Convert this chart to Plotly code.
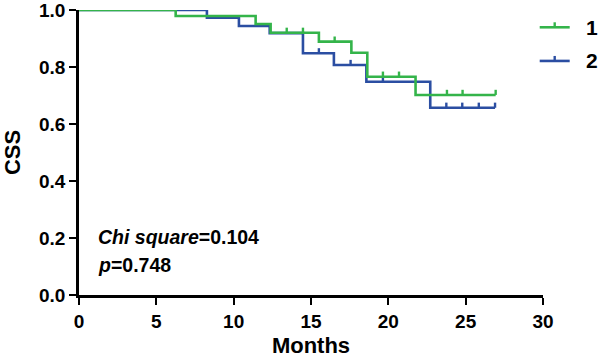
import numpy as np
import plotly.graph_objects as go

# Kaplan-Meier step data (months, survival)
green_times = [0, 6.25, 11.42, 12.39, 15.51, 17.61, 18.64, 21.76, 26.94]
green_surv = [1.0, 0.979, 0.951, 0.920, 0.889, 0.850, 0.766, 0.702, 0.702]
green_censor = [13.43, 14.48, 16.53, 19.65, 20.69, 23.79, 24.80, 26.94]

blue_times = [0, 8.27, 10.34, 12.33, 14.48, 16.48, 18.58, 22.71, 26.90]
blue_surv = [1.0, 0.973, 0.944, 0.919, 0.848, 0.807, 0.748, 0.657, 0.657]
blue_censor = [15.51, 17.56, 19.65, 23.75, 24.78, 25.85, 26.90]

x_ticks = [0, 5, 10, 15, 20, 25, 30]
y_ticks = [0.0, 0.2, 0.4, 0.6, 0.8, 1.0]

GREEN = "#34b44a"
BLUE = "#2b4ea2"
FONT = "Arial, Liberation Sans, sans-serif"


def surv_at(times, surv, t):
    idx = np.searchsorted(np.array(times), np.array(t), side="right") - 1
    return [surv[i] for i in idx]


fig = go.Figure()
tick_h = 0.018
for name, times, surv, cens, col in [
    ("2", blue_times, blue_surv, blue_censor, BLUE),
    ("1", green_times, green_surv, green_censor, GREEN),
]:
    fig.add_trace(go.Scatter(x=times, y=surv, mode="lines", line=dict(color=col, width=2.6, shape="hv"),
                             name=name, showlegend=False, cliponaxis=False))
    cy = surv_at(times, surv, cens)
    fig.add_trace(go.Scatter(x=cens, y=cy, mode="markers", marker=dict(size=0.1, color=col),
                             error_y=dict(type="data", symmetric=False, array=[tick_h] * len(cens),
                                          arrayminus=[0] * len(cens), width=0, thickness=2.4, color=col),
                             showlegend=False, hoverinfo="skip", cliponaxis=False))

# manual legend
L, R, T, B = 79.3, 543.3, 10.0, 295.3
W, H = R - L, B - T
px = lambda v: (v - L) / W
py = lambda v: (B - v) / H
for label, ypix, col in [("1", 27.3, GREEN), ("2", 61.0, BLUE)]:
    fig.add_shape(type="line", xref="paper", yref="paper", x0=px(540), x1=px(570), y0=py(ypix), y1=py(ypix),
                  line=dict(color=col, width=2.6))
    fig.add_shape(type="line", xref="paper", yref="paper", x0=px(555), x1=px(555), y0=py(ypix), y1=py(ypix - 5),
                  line=dict(color=col, width=2.4))
    fig.add_annotation(xref="paper", yref="paper", x=px(584), y=py(ypix), text="<b>%s</b>" % label,
                       showarrow=False, xanchor="left", yanchor="middle",
                       font=dict(family=FONT, size=21, color="black"))

fig.add_annotation(xref="paper", yref="paper", x=px(96), y=py(237.5), text="<b><i>Chi square</i>=0.104</b>",
                   showarrow=False, xanchor="left", yanchor="middle", font=dict(family=FONT, size=19.5, color="black"))
fig.add_annotation(xref="paper", yref="paper", x=px(96), y=py(265), text="<b><i>p</i>=0.748</b>",
                   showarrow=False, xanchor="left", yanchor="middle", font=dict(family=FONT, size=19.5, color="black"))

axis_common = dict(showline=True, linecolor="black", linewidth=2.5, ticks="outside", ticklen=7, tickwidth=2.2,
                   tickcolor="black", showgrid=False, zeroline=False, ticklabeloverflow="allow",
                   tickfont=dict(family=FONT, size=19, color="black"))
fig.update_xaxes(range=[0, 30], tickvals=x_ticks, ticktext=["<b>%d</b>" % v for v in x_ticks],
                 title=dict(text="<b>Months</b>", font=dict(family=FONT, size=22, color="black"), standoff=15),
                 **axis_common)
fig.update_yaxes(range=[0, 1.0], tickvals=y_ticks, ticktext=["<b>%.1f</b>" % v for v in y_ticks],
                 title=dict(text="<b>CSS</b>", font=dict(family=FONT, size=22, color="black"), standoff=21),
                 **axis_common)

fig.update_layout(width=600, height=358, margin=dict(l=L, r=600 - R, t=T, b=358 - B, autoexpand=False),
                  plot_bgcolor="white", paper_bgcolor="white", showlegend=False)
fig.write_html("out.html", config={"displayModeBar": False},
               post_script="document.body.style.margin='0px';document.body.style.overflow='hidden';")
